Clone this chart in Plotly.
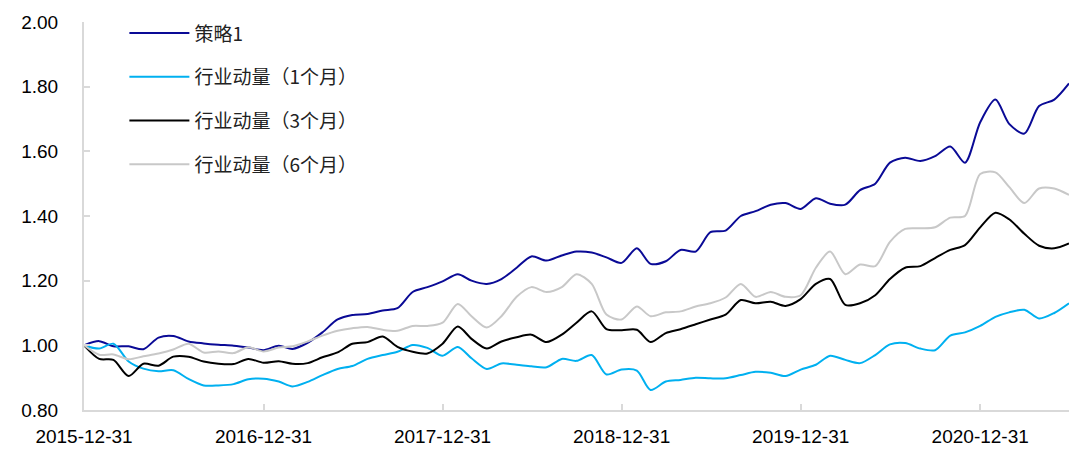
import pandas as pd
import plotly.graph_objects as go

dates = pd.date_range("2015-12-31", "2021-06-30", freq="ME").strftime("%Y-%m-%d").tolist()

strategy1 = [1.000, 1.013, 0.997, 0.997, 0.988, 1.024, 1.029, 1.012, 1.006, 1.002,
             0.999, 0.993, 0.985, 0.999, 0.989, 1.008, 1.040, 1.080, 1.094, 1.097,
             1.108, 1.115, 1.165, 1.180, 1.198, 1.220, 1.200, 1.190, 1.205, 1.240,
             1.275, 1.262, 1.278, 1.290, 1.287, 1.272, 1.255, 1.300, 1.252, 1.260,
             1.295, 1.290, 1.350, 1.355, 1.400, 1.415, 1.435, 1.440, 1.422, 1.455,
             1.438, 1.435, 1.480, 1.500, 1.565, 1.580, 1.570, 1.585, 1.615, 1.565,
             1.690, 1.760, 1.685, 1.655, 1.740, 1.760, 1.810]

mom1 = [1.000, 0.990, 1.005, 0.950, 0.928, 0.920, 0.923, 0.896, 0.876, 0.876,
        0.880, 0.895, 0.897, 0.888, 0.873, 0.887, 0.908, 0.927, 0.936, 0.958,
        0.970, 0.980, 1.001, 0.992, 0.968, 0.995, 0.960, 0.927, 0.944, 0.940,
        0.935, 0.932, 0.958, 0.952, 0.970, 0.910, 0.925, 0.922, 0.862, 0.888,
        0.893, 0.900, 0.898, 0.898, 0.908, 0.918, 0.915, 0.905, 0.925, 0.940,
        0.968, 0.955, 0.945, 0.970, 1.003, 1.007, 0.990, 0.985, 1.030, 1.040,
        1.060, 1.088, 1.102, 1.110, 1.083, 1.100, 1.130]

mom3 = [1.000, 0.958, 0.955, 0.905, 0.943, 0.937, 0.965, 0.965, 0.950, 0.943,
        0.942, 0.958, 0.946, 0.951, 0.943, 0.945, 0.963, 0.978, 1.005, 1.010,
        1.027, 0.995, 0.980, 0.975, 1.005, 1.058, 1.020, 0.990, 1.012, 1.025,
        1.033, 1.010, 1.033, 1.070, 1.105, 1.050, 1.047, 1.048, 1.010, 1.038,
        1.050, 1.065, 1.080, 1.095, 1.140, 1.130, 1.135, 1.122, 1.143, 1.190,
        1.205, 1.125, 1.130, 1.155, 1.205, 1.240, 1.245, 1.270, 1.295, 1.310,
        1.365, 1.410, 1.390, 1.345, 1.308, 1.300, 1.315]

mom6 = [1.000, 0.971, 0.972, 0.957, 0.966, 0.975, 0.987, 1.005, 0.978, 0.981,
        0.976, 0.994, 0.981, 0.993, 0.997, 1.012, 1.030, 1.045, 1.053, 1.057,
        1.048, 1.045, 1.060, 1.060, 1.070, 1.128, 1.090, 1.055, 1.090, 1.150,
        1.180, 1.165, 1.180, 1.220, 1.190, 1.095, 1.080, 1.120, 1.090, 1.102,
        1.105, 1.120, 1.130, 1.148, 1.190, 1.150, 1.165, 1.150, 1.155, 1.240,
        1.290, 1.220, 1.250, 1.245, 1.320, 1.360, 1.362, 1.365, 1.395, 1.400,
        1.530, 1.535, 1.490, 1.440, 1.485, 1.485, 1.465]

series_names = ["策略1", "行业动量（1个月）", "行业动量（3个月）", "行业动量（6个月）"]
series_values = [strategy1, mom1, mom3, mom6]
series_colors = ["#0A0A96", "#00B0F0", "#000000", "#C8C8C8"]

x_tick_vals = ["2015-12-31", "2016-12-31", "2017-12-31", "2018-12-31", "2019-12-31", "2020-12-31"]
x_tick_text = ["2015-12-31", "2016-12-31", "2017-12-31", "2018-12-31", "2019-12-31", "2020-12-31"]
y_tick_vals = [0.8, 1.0, 1.2, 1.4, 1.6, 1.8, 2.0]

fig = go.Figure()
for name, vals, col in zip(series_names, series_values, series_colors):
    fig.add_trace(go.Scatter(
        x=dates, y=vals, name=name, mode="lines", legendgroup=name,
        line=dict(color=col, width=2, shape="spline", smoothing=0.8),
    ))

# page body has an 8px margin, so the figure is sized to fit the 1089x456 window
fig.update_layout(
    width=1073, height=440,
    margin=dict(l=76, r=12, t=14, b=38, autoexpand=False),
    paper_bgcolor="white", plot_bgcolor="white",
    font=dict(family="Liberation Sans, Arial, sans-serif", size=19, color="black"),
    showlegend=True,
    legend=dict(
        x=0.041, y=1.02, xanchor="left", yanchor="top",
        bgcolor="rgba(0,0,0,0)",
        font=dict(family="Noto Sans CJK SC", size=19, color="#222222"),
        tracegroupgap=16, itemwidth=60, traceorder="grouped",
    ),
)
fig.update_xaxes(
    type="date", range=["2015-12-31", "2021-06-30"],
    tickmode="array", tickvals=x_tick_vals, ticktext=x_tick_text,
    showgrid=False, zeroline=False, automargin=False,
    showline=True, linecolor="#D9D9D9", linewidth=2,
    ticks="inside", ticklen=6, tickcolor="#D9D9D9", tickwidth=2,
    ticklabelstandoff=8,
)
fig.update_yaxes(
    range=[0.8, 2.0], tickmode="array", tickvals=y_tick_vals, tickformat=".2f",
    showgrid=False, zeroline=False, automargin=False,
    showline=True, linecolor="#D9D9D9", linewidth=2,
    ticks="inside", ticklen=6, tickcolor="#D9D9D9", tickwidth=2,
    ticklabelstandoff=20,
)

fig.write_html("out.html")
